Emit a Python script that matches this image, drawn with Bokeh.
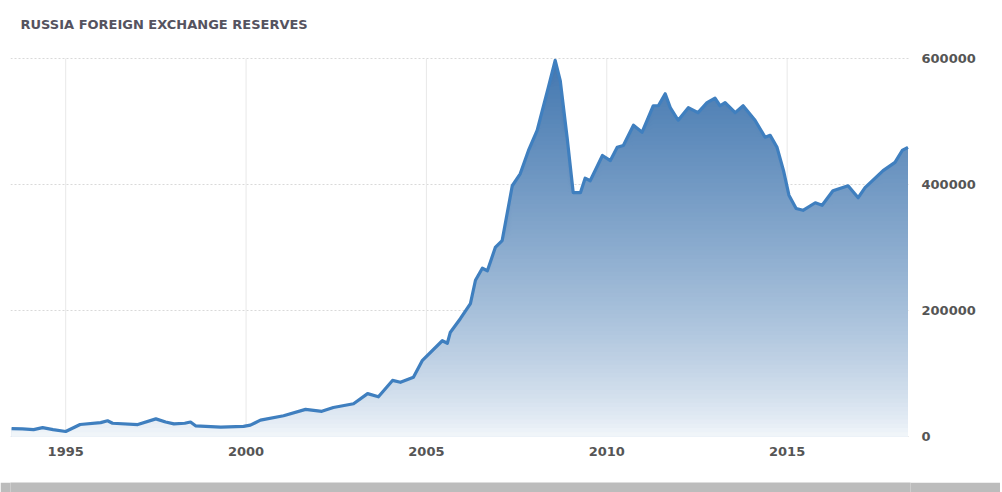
import numpy as np
from bokeh.plotting import figure
from bokeh.layouts import column
from bokeh.models import Range1d, FixedTicker, Title, BasicTickFormatter
from bokeh.embed import file_html
from bokeh.resources import INLINE

title_text = "RUSSIA FOREIGN EXCHANGE RESERVES"
x_ticks = [1995, 2000, 2005, 2010, 2015]
y_ticks = [0, 200000, 400000, 600000]

years = [1993.50, 1993.80, 1994.11, 1994.36, 1994.65, 1995.00, 1995.40, 1995.97,
         1996.16, 1996.30, 1997.00, 1997.50, 1997.77, 1998.00, 1998.30, 1998.46,
         1998.60, 1999.30, 1999.93, 2000.12, 2000.40, 2001.04, 2001.65, 2002.10,
         2002.42, 2002.98, 2003.37, 2003.67, 2004.06, 2004.28, 2004.64, 2004.89,
         2005.44, 2005.58, 2005.66, 2005.94, 2006.22, 2006.36, 2006.55, 2006.69,
         2006.91, 2007.10, 2007.38, 2007.60, 2007.83, 2008.07, 2008.21, 2008.38,
         2008.57, 2008.71, 2008.90, 2009.07, 2009.27, 2009.40, 2009.54, 2009.88,
         2010.10, 2010.29, 2010.46, 2010.74, 2010.98, 2011.29, 2011.43, 2011.62,
         2011.76, 2011.98, 2012.26, 2012.53, 2012.78, 2013.00, 2013.14, 2013.28,
         2013.56, 2013.78, 2014.11, 2014.39, 2014.53, 2014.72, 2014.90, 2015.05,
         2015.25, 2015.44, 2015.78, 2015.97, 2016.27, 2016.69, 2016.97, 2017.16,
         2017.66, 2017.99, 2018.19, 2018.35]
reserves = [12500, 12000, 11000, 14000, 11000, 8000, 19000, 22000,
            25000, 21000, 19000, 28000, 23000, 20000, 21000, 23000,
            17000, 15000, 16000, 18000, 26000, 33000, 43000, 40000,
            46000, 52000, 68000, 63000, 89000, 86000, 94000, 121000,
            152000, 148000, 165000, 187000, 211000, 248000, 267000, 263000,
            300000, 311000, 398000, 417000, 454000, 486000, 517000, 554000,
            597000, 565000, 475000, 387000, 387000, 410000, 406000, 446000,
            438000, 459000, 462000, 494000, 483000, 525000, 525000, 544000,
            522000, 502000, 522000, 514000, 530000, 537000, 525000, 530000,
            514000, 525000, 502000, 475000, 478000, 459000, 422000, 383000,
            362000, 359000, 371000, 367000, 390000, 398000, 379000, 395000,
            422000, 435000, 454000, 459000]

x = np.array(years)
v = np.array(reserves, dtype=float)

p = figure(width=1000, height=481, output_backend="svg", toolbar_location=None,
           x_range=Range1d(1993.47, 2018.42), y_range=Range1d(-6350, 634900),
           y_axis_location="right", min_border_left=10, min_border_right=90,
           min_border_top=36, min_border_bottom=41)
p.outline_line_color = None
p.background_fill_color = "white"
p.border_fill_color = "white"

t = Title(text=title_text, align="left", offset=10, standoff=10,
          text_font="DejaVu Sans", text_font_size="13px", text_font_style="bold",
          text_color="#55535f")
p.add_layout(t, "above")

# vertical grid lines, from the lowest to the highest y tick
p.segment(x0=x_ticks, x1=x_ticks, y0=[y_ticks[0]] * len(x_ticks),
          y1=[y_ticks[-1]] * len(x_ticks), line_color="#e8e8e8", line_width=1)

# gradient fill built from stacked bands (top color first, lighter ones over it)
top_c = np.array([68, 120, 176])
bot_c = np.array([246, 249, 252])
vmax = v.max()
levels = np.linspace(vmax, 0, 90)[:-1]
for b in levels:
    tt = (b / vmax) ** 0.75
    c = bot_c + (top_c - bot_c) * tt
    col = "#%02x%02x%02x" % tuple(int(round(k)) for k in c)
    p.varea(x=x, y1=np.zeros_like(v), y2=np.minimum(v, b), fill_color=col)

p.line(x, v, line_color="#3f7fbf", line_width=3.2, line_join="round")

p.xaxis.ticker = FixedTicker(ticks=x_ticks)
p.yaxis.ticker = FixedTicker(ticks=y_ticks)
p.yaxis.formatter = BasicTickFormatter(use_scientific=False)
for ax in (p.xaxis[0], p.yaxis[0]):
    ax.axis_line_color = None
    ax.major_tick_line_color = None
    ax.minor_tick_line_color = None
    ax.major_label_text_font = "DejaVu Sans"
    ax.major_label_text_font_style = "bold"
    ax.major_label_text_font_size = "13px"
    ax.major_label_text_color = "#555555"
p.xaxis.major_label_standoff = 0
p.yaxis.major_label_standoff = 5

p.xgrid.visible = False
p.ygrid.ticker = FixedTicker(ticks=y_ticks)
p.ygrid.grid_line_color = "#d9d9d9"
p.ygrid.grid_line_dash = "2 2"

# grey drop shadow under the chart card
s = figure(width=1000, height=11, output_backend="svg", toolbar_location=None,
           x_axis_type=None, y_axis_type=None, min_border_left=10,
           min_border_right=0, min_border_top=0, min_border_bottom=0,
           x_range=Range1d(0, 1), y_range=Range1d(0, 1))
s.outline_line_color = None
s.background_fill_color = "#bcbcbc"
s.border_fill_color = "#bcbcbc"

layout = column(p, s, spacing=0)
open("out.html", "w").write(file_html(layout, INLINE))
